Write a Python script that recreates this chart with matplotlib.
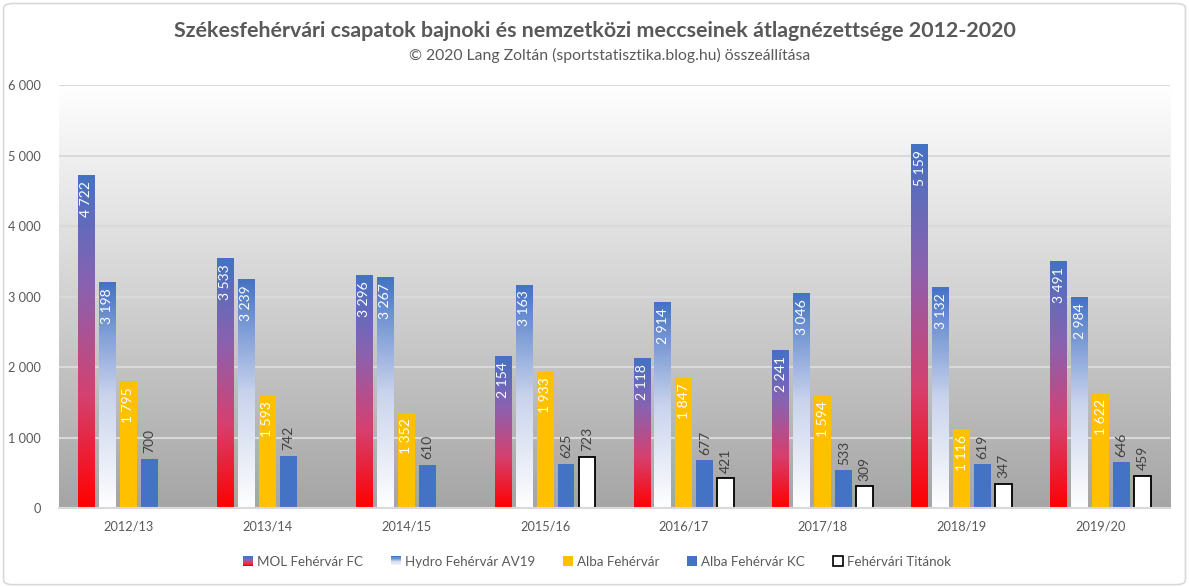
import numpy as np
import matplotlib
matplotlib.use("Agg")
import matplotlib.pyplot as plt
from matplotlib.colors import LinearSegmentedColormap
from matplotlib.patches import Rectangle, FancyBboxPatch
from matplotlib.legend_handler import HandlerBase

# data
seasons = ["2012/13", "2013/14", "2014/15", "2015/16", "2016/17", "2017/18", "2018/19", "2019/20"]
mol = [4722, 3533, 3296, 2154, 2118, 2241, 5159, 3491]
hydro = [3198, 3239, 3267, 3163, 2914, 3046, 3132, 2984]
alba = [1795, 1593, 1352, 1933, 1847, 1594, 1116, 1622]
kc = [700, 742, 610, 625, 677, 533, 619, 646]
titanok = [None, None, None, 723, 421, 309, 347, 459]
names = ["MOL Fehérvár FC", "Hydro Fehérvár AV19", "Alba Fehérvár", "Alba Fehérvár KC", "Fehérvári Titánok"]

plt.rcParams['font.family'] = ['Lato', 'DejaVu Sans']
grey = "#595959"
blue = "#4472C4"
yellow = "#FFC000"

cm_mol = LinearSegmentedColormap.from_list("mol", ["#FF0000", "#D6406E", "#8A62B0", blue])
cm_hydro = LinearSegmentedColormap.from_list("hydro", ["#FFFFFF", "#C9D3EC", blue])
cm_bg = LinearSegmentedColormap.from_list("bg", ["#A5A5A5", "#FFFFFF"])

fig = plt.figure(figsize=(11.89, 5.87), dpi=100)
fig.patches.append(FancyBboxPatch((0.003, 0.004), 0.994, 0.99, boxstyle="round,pad=0,rounding_size=0.008",
                                  transform=fig.transFigure, fc="white", ec="#D9D9D9", lw=1.2, zorder=-5))
ax = fig.add_axes([0.0496, 0.1346, 0.9344, 0.7204])
ax.set_facecolor("none")

x = np.arange(len(seasons))
w = 0.122
pitch = 0.151
grad = np.linspace(0, 1, 256).reshape(-1, 1)

# plot background gradient
ax.imshow(grad, cmap=cm_bg, origin="lower", extent=[-0.5, 7.5, 0, 6000], aspect="auto", zorder=0)

series = [mol, hydro, alba, kc, titanok]
for i, vals in enumerate(series):
    for j, v in enumerate(vals):
        if v is None:
            continue
        xc = x[j] + (i - 2) * pitch
        x0, x1 = xc - w / 2, xc + w / 2
        lab = f"{v:,}".replace(",", " ")
        if i in (0, 1):
            cmap = cm_mol if i == 0 else cm_hydro
            ax.imshow(grad, cmap=cmap, origin="lower", extent=[x0, x1, 0, v], aspect="auto", zorder=2)
        elif i == 2:
            ax.bar(xc, v, w, color=yellow, zorder=2)
        elif i == 3:
            ax.bar(xc, v, w, color=blue, zorder=2)
        else:
            ax.bar(xc, v, w, color="white", edgecolor="black", lw=1.3, zorder=2)
        if i < 3:
            ax.annotate(lab, (xc, v), xytext=(0, -4), textcoords="offset points", rotation=90,
                        ha="center", va="top", color="white", fontsize=10, zorder=3)
        else:
            ax.annotate(lab, (xc, v), xytext=(0, 4), textcoords="offset points", rotation=90,
                        ha="center", va="bottom", color="#404040", fontsize=10, zorder=3)

ax.set_xlim(-0.5, 7.5)
ax.set_ylim(0, 6000)
ax.set_yticks(range(0, 6001, 1000))
ax.set_yticklabels([f"{t:,}".replace(",", " ") for t in range(0, 6001, 1000)])
ax.set_xticks(x)
ax.set_xticklabels(seasons)
ax.tick_params(length=0, colors=grey, labelsize=9.2)
ax.tick_params(axis="x", pad=9)
ax.tick_params(axis="y", pad=13)
ax.grid(axis="y", color="#D9D9D9", lw=1.5)
ax.set_axisbelow(True)
for s in ["top", "right", "left"]:
    ax.spines[s].set_visible(False)
ax.spines["bottom"].set_color("#D9D9D9")
ax.spines["bottom"].set_linewidth(1.5)
ax.spines["bottom"].set_zorder(4)

fig.text(0.5, 0.948, "Székesfehérvári csapatok bajnoki és nemzetközi meccseinek átlagnézettsége 2012-2020",
         ha="center", va="center", fontsize=15.4, fontweight="bold", color=grey)
fig.text(0.513, 0.906, "© 2020 Lang Zoltán (sportstatisztika.blog.hu) összeállítása",
         ha="center", va="center", fontsize=11.3, color=grey)


class GradHandler(HandlerBase):
    def __init__(self, cmap):
        super().__init__()
        self.cmap = cmap

    def create_artists(self, legend, orig_handle, xd, yd, width, height, fontsize, trans):
        s = height
        x0 = xd + width - s
        n = 8
        arts = []
        for k in range(n):
            r = Rectangle((x0, -yd + k * s / n), s, s / n, fc=self.cmap(k / (n - 1)), ec="none", transform=trans)
            arts.append(r)
        return arts


h_mol = Rectangle((0, 0), 1, 1)
h_hydro = Rectangle((0, 1), 1, 1)
h_alba = Rectangle((0, 0), 1, 1, fc=yellow)
h_kc = Rectangle((0, 0), 1, 1, fc=blue)
h_tit = Rectangle((0, 0), 1, 1, fc="white", ec="black", lw=1.2)
leg = fig.legend([h_mol, h_hydro, h_alba, h_kc, h_tit], names, loc="center", bbox_to_anchor=(0.502, 0.043),
                 ncol=5, frameon=False, fontsize=9.6, handlelength=0.75, handleheight=0.75, handletextpad=0.3,
                 columnspacing=2.1, labelcolor=grey,
                 handler_map={h_mol: GradHandler(cm_mol), h_hydro: GradHandler(cm_hydro)})

fig.savefig("out.png", dpi=100)
